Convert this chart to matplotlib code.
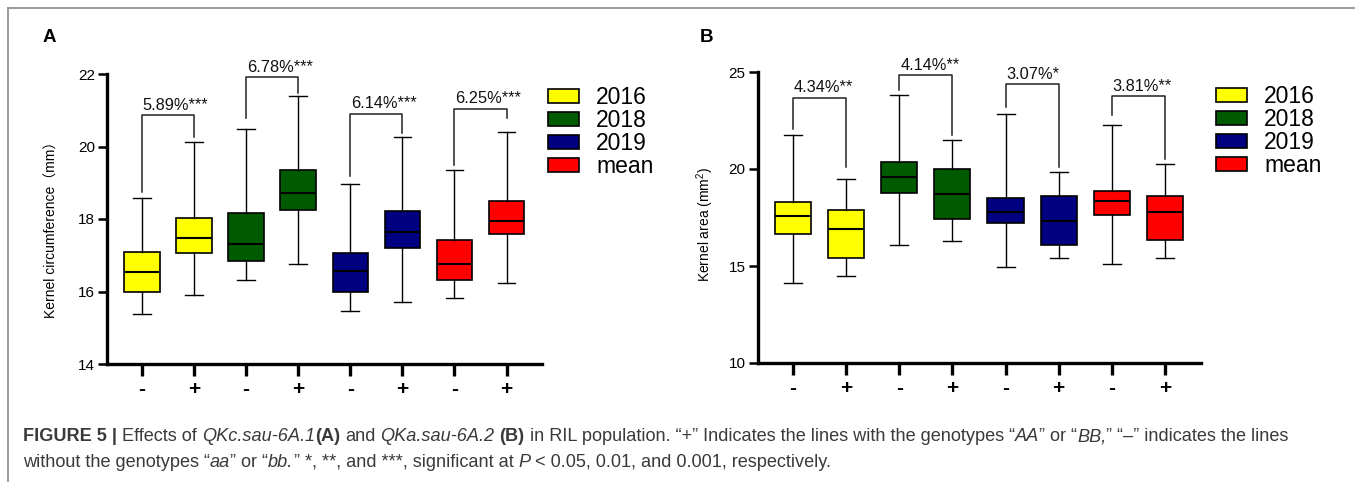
import matplotlib
matplotlib.use('Agg')
import matplotlib.pyplot as plt
from matplotlib.patches import Patch
from matplotlib.lines import Line2D
from matplotlib import font_manager

# ---------------- data ----------------
groups = ['2016', '2018', '2019', 'mean']
genotypes = ['-', '+', '-', '+', '-', '+', '-', '+']

# Panel A: kernel circumference (mm)
a_whislo = [15.38, 15.91, 16.31, 16.77, 15.46, 15.70, 15.81, 16.23]
a_q1     = [15.99, 17.07, 16.85, 18.25, 16.00, 17.20, 16.32, 17.60]
a_med    = [16.53, 17.47, 17.32, 18.73, 16.57, 17.64, 16.77, 17.95]
a_q3     = [17.08, 18.04, 18.17, 19.35, 17.06, 18.22, 17.41, 18.50]
a_whishi = [18.59, 20.13, 20.48, 21.40, 18.97, 20.26, 19.34, 20.41]
a_effect = ['5.89%***', '6.78%***', '6.14%***', '6.25%***']
a_bracket_top = [20.86, 21.91, 20.91, 21.04]
a_leg_left = [18.75, 20.78, 19.20, 19.49]
a_leg_right = [20.27, 21.47, 20.36, 20.78]

# Panel B: kernel area (mm2)
b_whislo = [14.11, 14.50, 16.08, 16.29, 14.95, 15.43, 15.12, 15.41]
b_q1     = [16.67, 15.43, 18.76, 17.42, 17.20, 16.07, 17.63, 16.36]
b_med    = [17.58, 16.91, 19.57, 18.71, 17.77, 17.34, 18.33, 17.80]
b_q3     = [18.28, 17.89, 20.34, 20.00, 18.52, 18.61, 18.88, 18.63]
b_whishi = [21.77, 19.50, 23.81, 21.48, 22.84, 19.83, 22.25, 20.27]
b_effect = ['4.34%**', '4.14%**', '3.07%*', '3.81%**']
b_bracket_top = [23.68, 24.83, 24.36, 23.76]
b_leg_left = [22.08, 24.05, 23.20, 22.77]
b_leg_right = [20.10, 21.74, 20.10, 20.53]

# ---------------- style ----------------
box_colors = ['#FFFF00', '#005A00', '#000080', '#FF0000']
plt.rcParams['font.family'] = ['Liberation Sans', 'DejaVu Sans']
plt.rcParams['mathtext.fontset'] = 'custom'
plt.rcParams['mathtext.rm'] = 'Liberation Sans'
plt.rcParams['mathtext.it'] = 'Liberation Sans:italic'
plt.rcParams['mathtext.bf'] = 'Liberation Sans:bold'
plt.rcParams['mathtext.default'] = 'regular'

W, H = 1355, 482
fig = plt.figure(figsize=(W / 100, H / 100), dpi=100)


def fx(px):
    return px / W


def fy(py):
    return 1 - py / H


def panel(left, right, top, bottom, whislo, q1, med, q3, whishi, effect,
          btop, bleft, bright, ylim, yticks, ylabel, ylab_family, ylab_x,
          letter, letter_x, legend_xy):
    ax = fig.add_axes([fx(left), fy(bottom), fx(right) - fx(left), fy(top) - fy(bottom)])
    stats = []
    for i in range(len(med)):
        stats.append(dict(whislo=whislo[i], q1=q1[i], med=med[i], q3=q3[i],
                          whishi=whishi[i], fliers=[]))
    bp = ax.bxp(stats, positions=list(range(len(med))), widths=0.68,
                patch_artist=True, showfliers=False,
                boxprops=dict(linewidth=1.2, edgecolor='black'),
                medianprops=dict(color='black', linewidth=1.5),
                whiskerprops=dict(color='black', linewidth=1.0),
                capprops=dict(color='black', linewidth=1.0))
    for i, p in enumerate(bp['boxes']):
        p.set_facecolor(box_colors[i // 2])
    for k in range(len(effect)):
        x0, x1 = 2 * k, 2 * k + 1
        ax.plot([x0, x0, x1, x1], [bleft[k], btop[k], btop[k], bright[k]],
                color='#222222', lw=1.1, clip_on=False)
        ax.annotate(effect[k], xy=(x0, btop[k]), xytext=(0.7, 4),
                    textcoords='offset points', ha='left', va='baseline',
                    fontsize=11.8, color='#111111')
    ax.set_xlim(-0.67, 7.68)
    ax.set_ylim(*ylim)
    ax.set_yticks(yticks)
    ax.set_xticks(list(range(len(genotypes))))
    ax.set_xticklabels(genotypes, fontweight='bold')
    for s in ['top', 'right']:
        ax.spines[s].set_visible(False)
    for s in ['left', 'bottom']:
        ax.spines[s].set_linewidth(2.4)
    ax.tick_params(axis='y', length=6.5, width=1.8, labelsize=11, pad=2)
    ax.tick_params(axis='x', length=8.6, width=2.4, labelsize=15, pad=3)
    ax.set_ylabel(ylabel, fontsize=10, family=ylab_family)
    ax.yaxis.set_label_coords(ylab_x, 0.475)
    fig.text(fx(letter_x), fy(42), letter, fontsize=13.5, weight='bold',
             ha='left', va='baseline')
    handles = [Patch(facecolor=c, edgecolor='black', linewidth=1.2) for c in box_colors]
    fig.legend(handles, groups, loc='upper left',
               bbox_to_anchor=(fx(legend_xy[0]), fy(legend_xy[1])),
               bbox_transform=fig.transFigure, frameon=False, borderpad=0,
               borderaxespad=0, handlelength=1.35, handleheight=0.52,
               handletextpad=0.75, labelspacing=0.0, fontsize=16.5)
    return ax


panel(107, 542, 74, 364, a_whislo, a_q1, a_med, a_q3, a_whishi, a_effect,
      a_bracket_top, a_leg_left, a_leg_right, (14, 22), [14, 16, 18, 20, 22],
      'Kernel circumference（mm）', ['Liberation Sans', 'Noto Sans CJK SC'], -0.11,
      'A', 43, (548, 86))
panel(757.5, 1201, 72, 363, b_whislo, b_q1, b_med, b_q3, b_whishi, b_effect,
      b_bracket_top, b_leg_left, b_leg_right, (10, 25), [10, 15, 20, 25],
      'Kernel area (mm$^{2}$)', ['Liberation Sans'], -0.094,
      'B', 700, (1216, 85))

# frame lines (top and left)
fig.add_artist(Line2D([fx(8), 1.0], [fy(7.5), fy(7.5)], color='#8a8a8a', lw=1.2,
                      transform=fig.transFigure))
fig.add_artist(Line2D([fx(8), fx(8)], [fy(7.5), 0.0], color='#8a8a8a', lw=1.2,
                      transform=fig.transFigure))

# ---------------- caption ----------------
cap_family = 'Liberation Sans'
try:
    font_manager.findfont(font_manager.FontProperties(family='Liberation Sans Narrow'),
                          fallback_to_default=False)
    cap_family = 'Liberation Sans Narrow'
except Exception:
    pass

renderer = fig.canvas.get_renderer()
styles = {'r': dict(), 'b': dict(weight='bold'), 'i': dict(style='italic')}


def tw(s, size, st):
    t = fig.text(0, 0, s, fontsize=size, family=cap_family, **styles[st])
    w = t.get_window_extent(renderer=renderer).width
    t.remove()
    return w


def rw(s, size, st):
    return tw('|' + s + '|', size, st) - tw('||', size, st)


line1 = [('FIGURE 5 | ', 'b'), ('Effects of ', 'r'), ('QKc.sau-6A.1', 'i'), ('(A)', 'b'),
         (' and ', 'r'), ('QKa.sau-6A.2', 'i'), (' ', 'r'), ('(B)', 'b'),
         (' in RIL population. \u201c+\u201d Indicates the lines with the genotypes \u201c', 'r'),
         ('AA', 'i'), ('\u201d or \u201c', 'r'), ('BB,', 'i'),
         ('\u201d \u201c\u2013\u201d indicates the lines', 'r')]
line2 = [('without the genotypes \u201c', 'r'), ('aa', 'i'), ('\u201d or \u201c', 'r'),
         ('bb.', 'i'), ('\u201d *, **, and ***, significant at ', 'r'), ('P', 'i'),
         (' < 0.05, 0.01, and 0.001, respectively.', 'r')]


def run_parts(s):
    core = s.strip(' ')
    if not core:
        return len(s), '', 0
    lead = len(s) - len(s.lstrip(' '))
    trail = len(s) - len(s.rstrip(' '))
    return lead, core, trail


def line_width(runs, size):
    total = 0
    for s, st in runs:
        lead, core, trail = run_parts(s)
        sp = rw(' ', size, st)
        total += (lead + trail) * sp + (rw(core, size, st) if core else 0)
    return total


base = 10.0
cap_size = base * (1296 - 23) / line_width(line1, base)


def draw_runs(runs, x0, baseline, size):
    x = x0
    for s, st in runs:
        lead, core, trail = run_parts(s)
        sp = rw(' ', size, st)
        x += lead * sp
        if core:
            fig.text(fx(x), fy(baseline), core, fontsize=size, family=cap_family,
                     color='#3a3a3a', ha='left', va='baseline', **styles[st])
            x += rw(core, size, st)
        x += trail * sp


draw_runs(line1, 23, 441, cap_size)
draw_runs(line2, 23, 467, cap_size)

fig.savefig('out.png', dpi=100)
